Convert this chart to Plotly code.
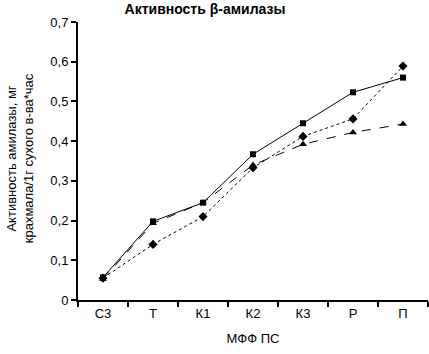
import plotly.graph_objects as go

categories = ["С3", "Т", "К1", "К2", "К3", "Р", "П"]
series_solid = [0.057, 0.198, 0.245, 0.367, 0.445, 0.523, 0.560]
series_dotted = [0.055, 0.140, 0.210, 0.333, 0.412, 0.456, 0.589]
series_dashed = [0.053, 0.193, 0.245, 0.340, 0.392, 0.422, 0.443]
y_ticks = [0, 0.1, 0.2, 0.3, 0.4, 0.5, 0.6, 0.7]
y_tick_labels = ["0", "0,1", "0,2", "0,3", "0,4", "0,5", "0,6", "0,7"]

FONT = "Liberation Sans, Arial, sans-serif"

fig = go.Figure()
fig.add_trace(go.Scatter(x=categories, y=series_solid, mode="lines+markers",
                         line=dict(color="black", width=1, dash="solid"),
                         marker=dict(symbol="square", size=6, color="black"),
                         showlegend=False))
fig.add_trace(go.Scatter(x=categories, y=series_dotted, mode="lines+markers",
                         line=dict(color="black", width=1, dash="dot"),
                         marker=dict(symbol="diamond", size=7, color="black"),
                         showlegend=False))
fig.add_trace(go.Scatter(x=categories, y=series_dashed, mode="lines+markers",
                         line=dict(color="black", width=1, dash="dash"),
                         marker=dict(symbol="triangle-up", size=7, color="black"),
                         showlegend=False))

fig.update_layout(
    width=429, height=354,
    margin=dict(l=78, r=1, t=22, b=54),
    paper_bgcolor="white", plot_bgcolor="white",
    font=dict(family=FONT, size=13, color="black"),
    title=dict(text="<b>Активность β-амилазы</b>", x=205/429, xanchor="center",
               y=1 - 9/354, yanchor="middle", font=dict(size=14)),
    xaxis=dict(type="category", range=[-0.5, 6.5], showline=True, linecolor="black",
               linewidth=2, ticks="outside", tickson="boundaries", ticklen=5,
               tickcolor="black", tickwidth=2, showgrid=False, zeroline=False,
               title=dict(text="МФФ ПС", standoff=14, font=dict(size=13))),
    yaxis=dict(range=[0, 0.7], tickvals=y_ticks, ticktext=y_tick_labels, showline=True,
               linecolor="black", linewidth=2, ticks="outside", ticklen=5,
               tickcolor="black", tickwidth=2, showgrid=False, zeroline=False),
    annotations=[
        dict(text="Активность амилазы, мг<br>крахмала/1г сухого в-ва*час",
             textangle=-90, xref="paper", yref="paper", x=(20 - 78) / 350, y=0.51,
             xanchor="center", yanchor="middle", showarrow=False,
             font=dict(size=13))
    ],
)

fig.write_html("out.html", config={"displayModeBar": False},
               post_script="document.body.style.margin='0';document.body.style.overflow='hidden';")
